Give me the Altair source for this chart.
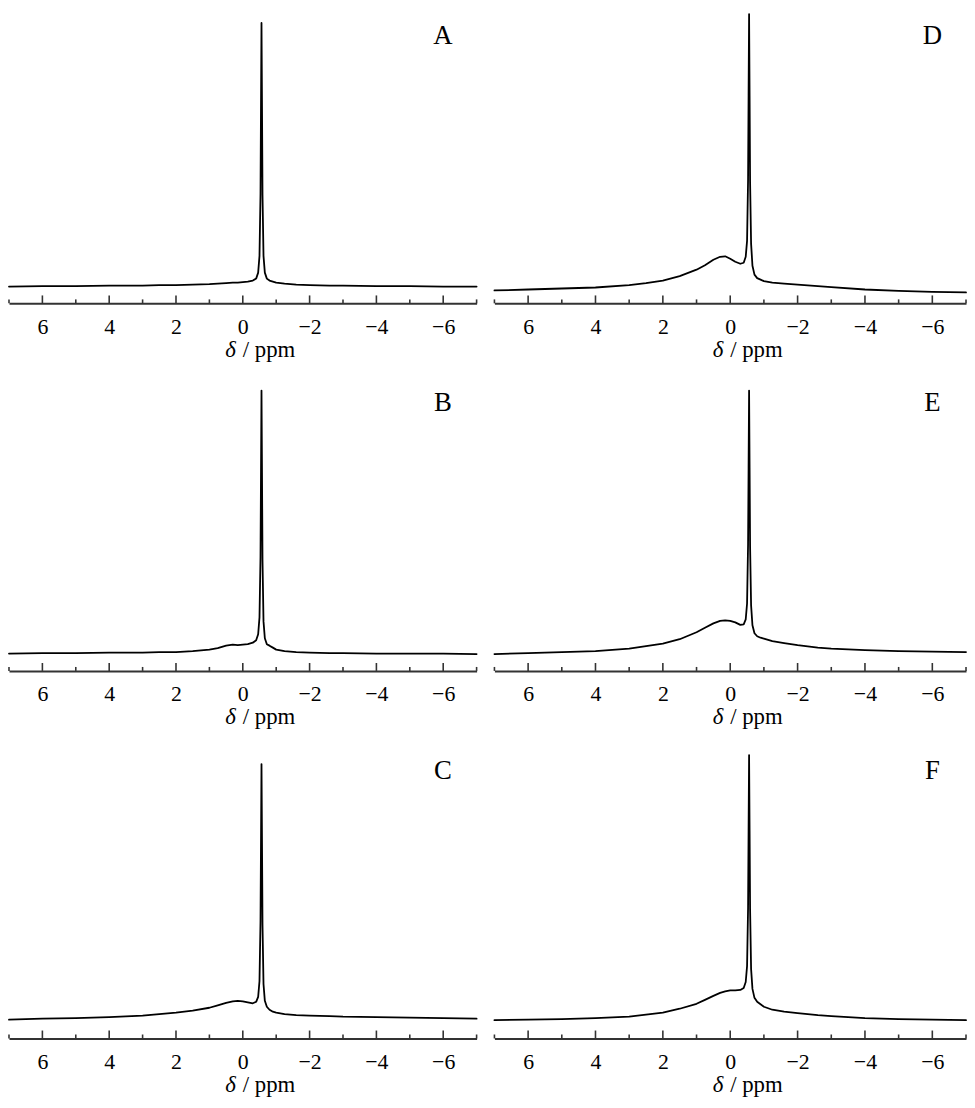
import altair as alt
import pandas as pd

# chemical shift grid (ppm) shared by all six spectra
ppm = [7.0, 6.0, 5.0, 4.0, 3.0, 2.5, 2.0, 1.5, 1.0, 0.75, 0.5, 0.3, 0.15, 0.0,
       -0.15, -0.3, -0.4, -0.46, -0.5, -0.53, -0.545, -0.56, -0.575, -0.59,
       -0.62, -0.66, -0.72, -0.8, -0.9, -1.0, -1.25, -1.6, -2.0, -2.6, -3.0,
       -4.0, -5.0, -6.0, -7.0]

# intensities (a.u.)
spec_A = [17, 17.5, 17.5, 18, 18, 18.5, 18.5, 19, 19.5, 20, 20.5, 21, 21, 21.5,
          22, 23, 25, 31, 48, 110, 200, 283, 200, 110,
          48, 31, 25, 23, 22, 21, 20, 19, 18.5, 18, 18,
          17.5, 17.5, 17, 17]
spec_B = [17.5, 18, 18, 18.5, 18.5, 19, 19, 20, 21.5, 23, 25.5, 26.5, 26, 26.5,
          27, 28.5, 31, 37, 54, 115, 200, 283, 200, 112,
          50, 33, 27, 25.5, 23.5, 21.5, 20, 19, 18.5, 18, 18,
          17.5, 17.5, 17.5, 17]
spec_C = [19, 20, 20.5, 21.5, 23, 24.5, 26, 28, 31, 33.5, 36, 37.5, 38, 37.5,
          36.5, 35.5, 37, 42, 58, 118, 198, 277, 198, 115,
          55, 38, 32, 29, 27, 26, 24.5, 23.5, 23, 22.5, 22,
          21.5, 21, 20.5, 20]
spec_D = [13, 14, 15, 16, 18.5, 20.5, 23, 27.5, 34, 38.5, 44, 47, 47.5, 45,
          42, 40, 41, 47, 63, 125, 210, 292, 210, 122,
          60, 38, 29, 25.5, 24, 22.5, 21, 20, 19, 17.5, 16.5,
          14, 12.5, 11.5, 11]
spec_E = [17, 18, 19, 20, 22.5, 25, 27.5, 32, 39, 43.5, 48, 50.5, 51, 50.5,
          49, 46.5, 47, 52, 68, 128, 205, 283, 205, 125,
          66, 46, 38, 35, 33.5, 32.5, 30, 28, 26, 23.5, 22.5,
          21, 20, 19.5, 19]
spec_F = [18.5, 19, 19.5, 20.5, 22, 24, 26, 30, 35, 39, 43, 46, 47.5, 48.5,
          48.5, 49, 51, 57, 73, 132, 210, 286, 210, 130,
          70, 50, 41, 37, 34.5, 32, 29, 27, 25.5, 23.5, 22.5,
          20.5, 19.5, 19, 18.5]

letters = ["A", "B", "C", "D", "E", "F"]
major_ticks = [6, 4, 2, 0, -2, -4, -6]
minor_ticks = [7, 5, 3, 1, -1, -3, -5, -7]

H = 293
YMAX = 293
SERIF = "Liberation Serif"
AXC = "#333333"


def panel(letter, vals, w):
    xscale = alt.Scale(domain=[7, -7], nice=False, zero=False)
    xaxis = alt.Axis(values=major_ticks, ticks=False, grid=False,
                     domain=True, domainColor=AXC, domainWidth=2,
                     labelFont=SERIF, labelFontSize=22,
                     labelColor="black", labelPadding=13,
                     labelFlush=False, title=None)
    df = pd.DataFrame({"ppm": ppm, "I": vals})
    line = alt.Chart(df).mark_line(color="black", strokeWidth=1.8,
                                   strokeJoin="round", strokeCap="round").encode(
        x=alt.X("ppm:Q", scale=xscale, axis=xaxis),
        y=alt.Y("I:Q", scale=alt.Scale(domain=[0, YMAX], nice=False), axis=None),
    )
    tmaj = alt.Chart(pd.DataFrame({"t": major_ticks})).mark_rule(
        color=AXC, strokeWidth=1.6).encode(
        x=alt.X("t:Q", scale=xscale, axis=xaxis),
        y=alt.value(H), y2=alt.value(H - 8))
    tmin = alt.Chart(pd.DataFrame({"t": minor_ticks})).mark_rule(
        color=AXC, strokeWidth=1.6).encode(
        x=alt.X("t:Q", scale=xscale, axis=xaxis),
        y=alt.value(H), y2=alt.value(H - 4))
    lab = alt.Chart(pd.DataFrame({"lab": [letter]})).mark_text(
        font=SERIF, fontSize=27, align="center", baseline="alphabetic",
        color="black").encode(
        x=alt.value(w - 34), y=alt.value(31), text="lab:N")
    x0 = w / 2 + 15 - 22
    delta = alt.Chart(pd.DataFrame({"s": ["δ"]})).mark_text(
        font=SERIF, fontSize=23, fontStyle="italic", align="right",
        baseline="alphabetic", color="black").encode(
        x=alt.value(x0), y=alt.value(H + 54), text="s:N")
    unit = alt.Chart(pd.DataFrame({"s": ["/ ppm"]})).mark_text(
        font=SERIF, fontSize=23, align="left",
        baseline="alphabetic", color="black").encode(
        x=alt.value(x0 + 7), y=alt.value(H + 54), text="s:N")
    return alt.layer(line, tmaj, tmin, lab, delta, unit).properties(width=w, height=H)


A = panel("A", spec_A, 472)
B = panel("B", spec_B, 472)
C = panel("C", spec_C, 472)
D = panel("D", spec_D, 476)
E = panel("E", spec_E, 476)
F = panel("F", spec_F, 476)

chart = alt.vconcat(
    alt.hconcat(A, D, spacing=16),
    alt.hconcat(B, E, spacing=16),
    alt.hconcat(C, F, spacing=16),
    spacing=19,
).properties(padding=0).configure_view(stroke=None).configure_axis(
    labelFont=SERIF, labelFontSize=22, labelColor="black")

chart.save("out.html", embed_options={"renderer": "svg", "actions": False})
